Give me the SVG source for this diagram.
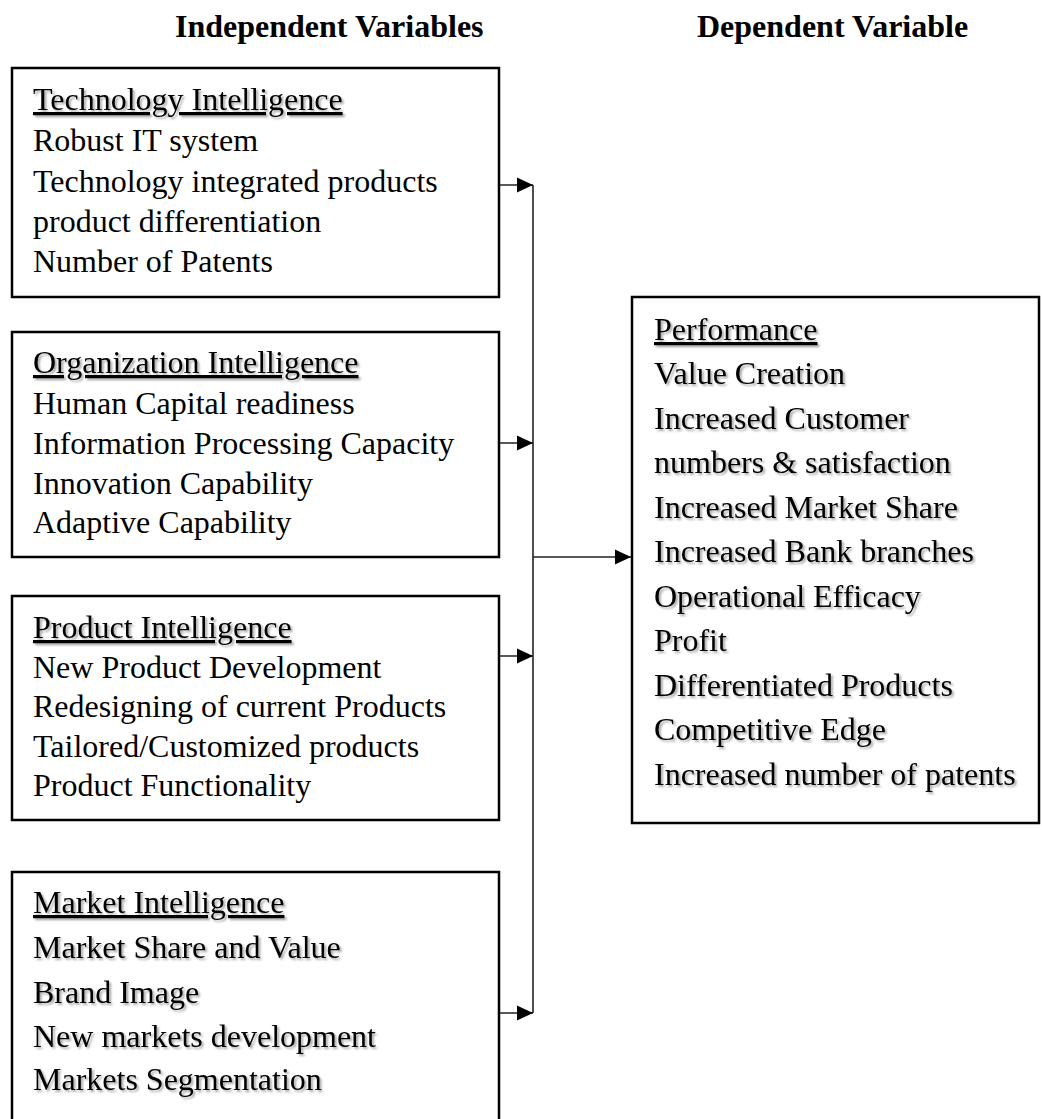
<svg xmlns="http://www.w3.org/2000/svg" width="1042" height="1119" viewBox="0 0 1042 1119">
  <style>
    .hdr { font-family: "Liberation Serif", "Times New Roman", serif; font-size: 32px; font-weight: bold; fill: #000; }
    .txt { font-family: "Liberation Serif", "Times New Roman", serif; font-size: 32px; fill: #000; }
    .ttl { text-decoration: underline; }
    .box { fill: #fff; stroke: #000; stroke-width: 2.5; }
    .wire { fill: none; stroke: #222; stroke-width: 1.6; }
    .shd { filter: url(#soft); }
  </style>
  <defs>
    <marker id="arrow" markerUnits="userSpaceOnUse" markerWidth="16" markerHeight="16" viewBox="0 0 16 16" refX="16" refY="8" orient="auto">
      <path d="M0,0.5 L16,8 L0,15.5 Z" fill="#000"/>
    </marker>
    <filter id="soft" x="-5%" y="-20%" width="110%" height="150%">
      <feGaussianBlur in="SourceAlpha" stdDeviation="1.2" result="b"/>
      <feOffset in="b" dx="1.5" dy="1.5" result="o"/>
      <feComponentTransfer in="o" result="s"><feFuncA type="linear" slope="0.35"/></feComponentTransfer>
      <feMerge><feMergeNode in="s"/><feMergeNode in="SourceGraphic"/></feMerge>
    </filter>
  </defs>

  <!-- column headings -->
  <g id="headings">
    <text class="hdr" x="175" y="37">Independent Variables</text>
    <text class="hdr" x="697" y="37">Dependent Variable</text>
  </g>

  <g id="technology">
    <rect class="box" x="12" y="68" width="487" height="229"/>
    <text class="txt ttl shd" x="33" y="110">Technology Intelligence</text>
    <text class="txt" x="33" y="151">Robust IT system</text>
    <text class="txt" x="33" y="192">Technology integrated products</text>
    <text class="txt" x="33" y="232">product differentiation</text>
    <text class="txt" x="33" y="272">Number of Patents</text>
  </g>

  <g id="organization">
    <rect class="box" x="12" y="332" width="487" height="225"/>
    <text class="txt ttl shd" x="33" y="373">Organization Intelligence</text>
    <text class="txt" x="33" y="414">Human Capital readiness</text>
    <text class="txt" x="33" y="454">Information Processing Capacity</text>
    <text class="txt" x="33" y="494">Innovation Capability</text>
    <text class="txt" x="33" y="533">Adaptive Capability</text>
  </g>

  <g id="product">
    <rect class="box" x="12" y="596" width="487" height="224"/>
    <text class="txt ttl shd" x="33" y="638">Product Intelligence</text>
    <text class="txt" x="33" y="678">New Product Development</text>
    <text class="txt" x="33" y="717">Redesigning of current Products</text>
    <text class="txt" x="33" y="757">Tailored/Customized products</text>
    <text class="txt" x="33" y="796">Product Functionality</text>
  </g>

  <g id="market">
    <rect class="box" x="12" y="872" width="487" height="260"/>
    <g class="shd">
      <text class="txt ttl" x="33" y="913">Market Intelligence</text>
      <text class="txt" x="33" y="958">Market Share and Value</text>
      <text class="txt" x="33" y="1003">Brand Image</text>
      <text class="txt" x="33" y="1047">New markets development</text>
      <text class="txt" x="33" y="1090">Markets Segmentation</text>
    </g>
  </g>

  <g id="performance">
    <rect class="box" x="632" y="297" width="407" height="526"/>
    <g class="shd">
      <text class="txt ttl" x="654" y="340">Performance</text>
      <text class="txt" x="654" y="384">Value Creation</text>
      <text class="txt" x="654" y="429">Increased Customer</text>
      <text class="txt" x="654" y="473">numbers &amp; satisfaction</text>
      <text class="txt" x="654" y="518">Increased Market Share</text>
      <text class="txt" x="654" y="562">Increased Bank branches</text>
      <text class="txt" x="654" y="607">Operational Efficacy</text>
      <text class="txt" x="654" y="651">Profit</text>
      <text class="txt" x="654" y="696">Differentiated Products</text>
      <text class="txt" x="654" y="740">Competitive Edge</text>
      <text class="txt" x="654" y="785">Increased number of patents</text>
    </g>
  </g>

  <!-- connectors -->
  <g id="connectors">
    <line class="wire" x1="533" y1="185" x2="533" y2="1013"/>
    <line class="wire" x1="500" y1="185" x2="533" y2="185" marker-end="url(#arrow)"/>
    <line class="wire" x1="500" y1="443" x2="533" y2="443" marker-end="url(#arrow)"/>
    <line class="wire" x1="500" y1="656" x2="533" y2="656" marker-end="url(#arrow)"/>
    <line class="wire" x1="500" y1="1013" x2="533" y2="1013" marker-end="url(#arrow)"/>
    <line class="wire" x1="533" y1="557" x2="631" y2="557" marker-end="url(#arrow)"/>
  </g>
</svg>
